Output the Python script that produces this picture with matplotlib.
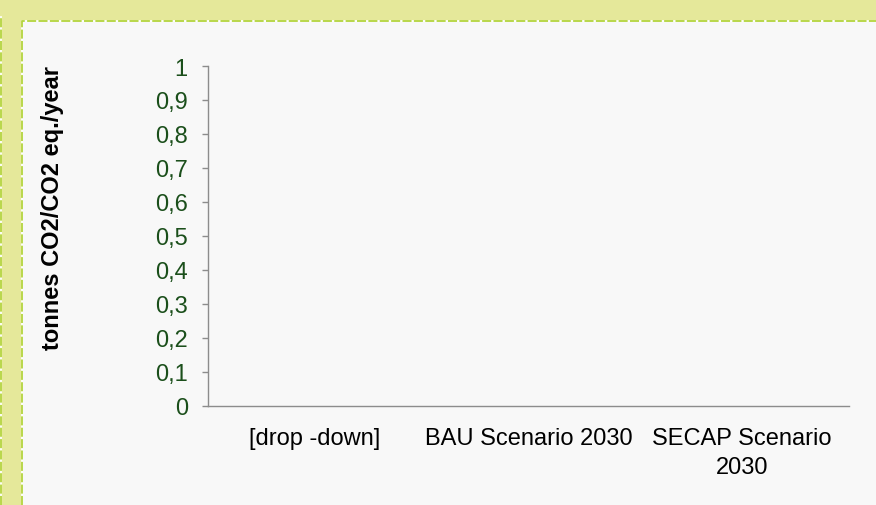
import matplotlib
matplotlib.use("Agg")
import matplotlib.pyplot as plt
from matplotlib.lines import Line2D
from matplotlib.patches import Rectangle
from matplotlib.ticker import FuncFormatter

plt.rcParams["font.family"] = ["Liberation Sans", "DejaVu Sans"]

categories = ["[drop -down]", "BAU Scenario 2030", "SECAP Scenario\n2030"]
values = [0, 0, 0]
y_ticks = [0, 0.1, 0.2, 0.3, 0.4, 0.5, 0.6, 0.7, 0.8, 0.9, 1.0]
y_label = "tonnes CO2/CO2 eq./year"

outer_bg = "#e5e89a"
panel_bg = "#f8f8f8"
dash_green = "#b3d43c"
tick_green = "#1b4f1b"
axis_grey = "#8c8c8c"

W, H = 876, 506
fig = plt.figure(figsize=(W / 100, H / 100), dpi=100, facecolor=outer_bg)

# inner light panel with dashed border
px, py = 21.5 / W, 1 - 21.5 / H
fig.patches.append(Rectangle((px, 0), 1 - px, py, transform=fig.transFigure,
                             facecolor=panel_bg, edgecolor="none", zorder=-2))
for color, style in [("white", "-"), (dash_green, (0, (5, 1.3)))]:
    fig.add_artist(Line2D([px, px, 1], [0, py, py], transform=fig.transFigure,
                          color=color, lw=1.3, linestyle=style, zorder=-1))
    fig.add_artist(Line2D([0.6 / W, 0.6 / W], [0, 1 - 18 / H], transform=fig.transFigure,
                          color=color, lw=1.3, linestyle=style, zorder=-1))

ax = fig.add_axes([208 / W, 1 - 407 / H, (849 - 208) / W, (407 - 67) / H])
ax.set_zorder(1)
ax.set_facecolor(panel_bg)
ax.bar(categories, values, width=0.6, color="#4f81bd")

ax.set_xlim(-0.5, len(categories) - 0.5)
ax.set_ylim(0, 1)
ax.set_yticks(y_ticks)
ax.yaxis.set_major_formatter(FuncFormatter(lambda v, _: f"{v:g}".replace(".", ",")))

for side in ("top", "right"):
    ax.spines[side].set_visible(False)
for side in ("left", "bottom"):
    ax.spines[side].set_color(axis_grey)
    ax.spines[side].set_linewidth(1.0)

ax.tick_params(axis="y", direction="out", length=4.5, width=1.0, color=axis_grey,
               labelcolor=tick_green, labelsize=17, pad=10)
ax.tick_params(axis="x", length=0, labelsize=17, labelcolor="black", pad=15)
for lbl in ax.get_xticklabels():
    lbl.set_linespacing(1.45)

fig.text(53 / W, 1 - 208 / H, y_label, rotation=90, ha="center", va="center",
         fontsize=17, fontweight="bold", color="black")

fig.savefig("out.png", dpi=100, facecolor=outer_bg)
